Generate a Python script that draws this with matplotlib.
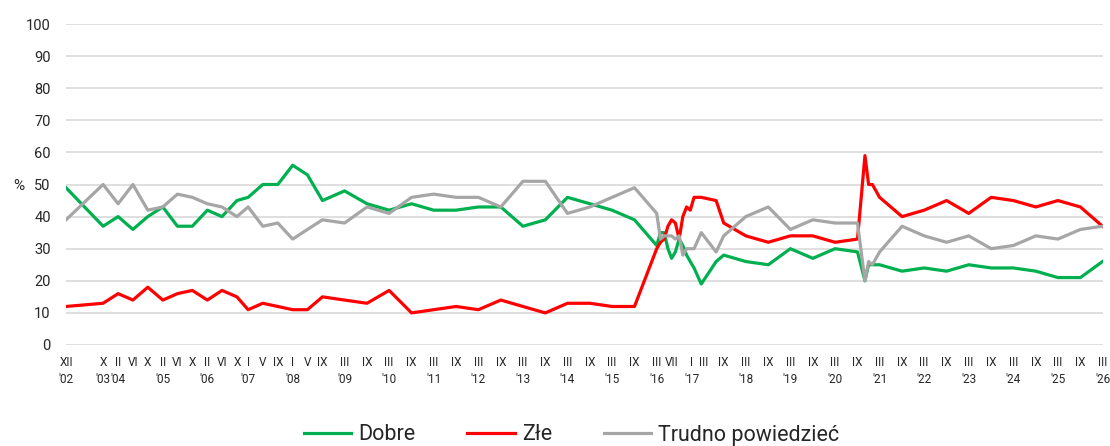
import pandas as pd
import numpy as np
import matplotlib.pyplot as plt
from matplotlib.transforms import ScaledTranslation

plt.rcParams['font.family'] = ['Roboto', 'DejaVu Sans']

# survey dates (year-month)
dates = ['2002-12', '2003-10', '2004-02', '2004-06', '2004-10', '2005-02', '2005-06', '2005-10',
         '2006-02', '2006-06', '2006-10', '2007-01', '2007-05', '2007-09', '2008-01', '2008-05',
         '2008-09', '2009-03', '2009-09', '2010-03', '2010-09', '2011-03', '2011-09', '2012-03',
         '2012-09', '2013-03', '2013-09', '2014-03', '2014-09', '2015-03', '2015-09',
         '2016-03', '2016-04', '2016-05', '2016-06', '2016-07', '2016-08', '2016-09', '2016-10',
         '2016-11', '2016-12', '2017-01', '2017-03', '2017-07', '2017-09', '2018-03', '2018-09',
         '2019-03', '2019-09', '2020-03', '2020-09', '2020-11', '2020-12', '2021-01', '2021-03',
         '2021-09', '2022-03', '2022-09', '2023-03', '2023-09', '2024-03', '2024-09', '2025-03',
         '2025-09', '2026-03']

dobre = [49, 37, 40, 36, 40, 43, 37, 37,
         42, 40, 45, 46, 50, 50, 56, 53,
         45, 48, 44, 42, 44, 42, 42, 43,
         43, 37, 39, 46, 44, 42, 39,
         31, 35, 35, 30, 27, 29, 33, 31,
         28, 26, 24, 19, 26, 28, 26, 25,
         30, 27, 30, 29, 20, 25, 25, 25,
         23, 24, 23, 25, 24, 24, 23, 21,
         21, 26]

zle = [12, 13, 16, 14, 18, 14, 16, 17,
       14, 17, 15, 11, 13, 12, 11, 11,
       15, 14, 13, 17, 10, 11, 12, 11,
       14, 12, 10, 13, 13, 12, 12,
       30, 32, 33, 37, 39, 38, 33, 40,
       43, 42, 46, 46, 45, 38, 34, 32,
       34, 34, 32, 33, 59, 50, 50, 46,
       40, 42, 45, 41, 46, 45, 43, 45,
       43, 37]

trudno = [39, 50, 44, 50, 42, 43, 47, 46,
          44, 43, 40, 43, 37, 38, 33, 36,
          39, 38, 43, 41, 46, 47, 46, 46,
          43, 51, 51, 41, 43, 46, 49,
          41, 33, 34, 34, 34, 33, 34, 28,
          30, 30, 30, 35, 29, 34, 40, 43,
          36, 39, 38, 38, 20, 26, 25, 29,
          37, 34, 32, 34, 30, 31, 34, 33,
          36, 37]

# dates that carry an axis label
tick_dates = ['2002-12', '2003-10', '2004-02', '2004-06', '2004-10', '2005-02', '2005-06', '2005-10',
              '2006-02', '2006-06', '2006-10', '2007-01', '2007-05', '2007-09', '2008-01', '2008-05',
              '2008-09', '2009-03', '2009-09', '2010-03', '2010-09', '2011-03', '2011-09', '2012-03',
              '2012-09', '2013-03', '2013-09', '2014-03', '2014-09', '2015-03', '2015-09', '2016-03',
              '2016-07', '2017-01', '2017-03', '2017-09', '2018-03', '2018-09', '2019-03', '2019-09',
              '2020-03', '2020-09', '2021-03', '2021-09', '2022-03', '2022-09', '2023-03', '2023-09',
              '2024-03', '2024-09', '2025-03', '2025-09', '2026-03']

roman = ['I', 'II', 'III', 'IV', 'V', 'VI', 'VII', 'VIII', 'IX', 'X', 'XI', 'XII']

x = pd.to_datetime(dates, format='%Y-%m')
tx = pd.to_datetime(tick_dates, format='%Y-%m')

labels = []
seen = set()
for d in tx:
    lab = roman[d.month - 1]
    if d.year not in seen:
        lab += "\n'" + str(d.year)[2:]
        seen.add(d.year)
    labels.append(lab)

fig = plt.figure(figsize=(11.1, 4.46), dpi=100)
ax = fig.add_axes([66/1110, 1-345/446, (1102.5-66)/1110, (345-24)/446])

ax.plot(x, dobre, color='#00b050', lw=2.3, label='Dobre', zorder=3)
ax.plot(x, zle, color='#ff0000', lw=2.3, label='Złe', zorder=3)
ax.plot(x, trudno, color='#a6a6a6', lw=2.3, label='Trudno powiedzieć', zorder=3)

ax.set_ylim(0, 100)
ax.set_yticks(np.arange(0, 101, 10))
ax.set_xlim(x[0], x[-1])
ax.set_xticks(tx)
ax.set_xticklabels(labels)

ax.grid(axis='y', color='#d9d9d9', lw=1.2)
ax.set_axisbelow(True)
for s in ax.spines.values():
    s.set_visible(False)
ax.tick_params(axis='x', length=0, pad=8, labelsize=8.5, colors='#262626')
ax.tick_params(axis='y', length=0, pad=11, labelsize=10.5, colors='#262626')

# two close labels in early 2017 get a small nudge apart
xt = ax.get_xticklabels()
for lab in xt:
    lab.set_linespacing(1.35)
xt[33].set_transform(xt[33].get_transform() + ScaledTranslation(-1.5/72, 0, fig.dpi_scale_trans))
xt[34].set_transform(xt[34].get_transform() + ScaledTranslation(1.5/72, 0, fig.dpi_scale_trans))

fig.text(13/1110, 1-186/446, '%', fontsize=11, color='#262626', va='center')

fig.legend(loc='center', bbox_to_anchor=(0.515, 1-435/446), ncol=3, frameon=False,
           fontsize=15.5, handlelength=2.2, handletextpad=0.33, columnspacing=2.4,
           labelcolor='#262626')

fig.savefig('out.png', dpi=100)
